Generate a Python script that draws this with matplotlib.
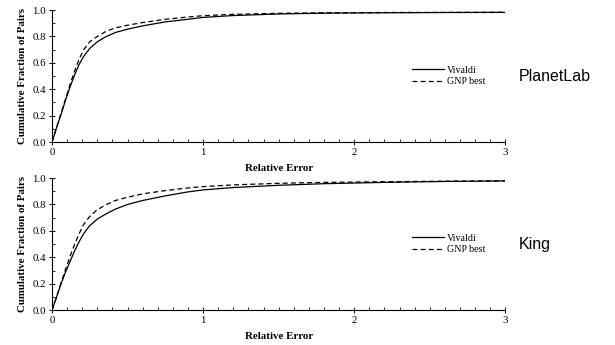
import matplotlib
matplotlib.use("Agg")
import matplotlib.pyplot as plt
from matplotlib.ticker import MultipleLocator

# relative error sample points
ERR = [0.0, 0.03, 0.06, 0.09, 0.12, 0.15, 0.18, 0.21, 0.25, 0.3, 0.36, 0.42,
       0.5, 0.6, 0.75, 0.9, 1.0, 1.2, 1.5, 1.8, 2.2, 2.6, 3.0]

# PlanetLab
PL_VIVALDI = [0.0, 0.11, 0.21, 0.32, 0.42, 0.51, 0.59, 0.65, 0.71, 0.76, 0.80, 0.83,
              0.855, 0.88, 0.91, 0.93, 0.944, 0.958, 0.970, 0.976, 0.979, 0.981, 0.982]
PL_GNP = [0.0, 0.11, 0.22, 0.33, 0.44, 0.54, 0.63, 0.70, 0.76, 0.80, 0.84, 0.865,
          0.885, 0.905, 0.93, 0.947, 0.957, 0.967, 0.975, 0.979, 0.981, 0.982, 0.983]

# King
KING_VIVALDI = [0.0, 0.10, 0.20, 0.29, 0.37, 0.45, 0.52, 0.58, 0.64, 0.69, 0.73, 0.765,
                0.80, 0.83, 0.865, 0.895, 0.91, 0.928, 0.945, 0.957, 0.967, 0.974, 0.978]
KING_GNP = [0.0, 0.10, 0.21, 0.31, 0.41, 0.50, 0.58, 0.65, 0.71, 0.76, 0.80, 0.83,
            0.855, 0.88, 0.905, 0.925, 0.935, 0.948, 0.96, 0.967, 0.972, 0.976, 0.979]

PANELS = [
    ("PlanetLab", PL_VIVALDI, PL_GNP, [0.0846, 0.588, 0.737, 0.383]),
    ("King", KING_VIVALDI, KING_GNP, [0.0846, 0.101, 0.737, 0.383]),
]

SERIF = ["Liberation Serif", "DejaVu Serif"]

fig = plt.figure(figsize=(6.15, 3.45), dpi=100)

for name, viv, gnp, rect in PANELS:
    ax = fig.add_axes(rect)
    ax.plot(ERR, viv, color="black", linewidth=0.9, label="Vivaldi")
    ax.plot(ERR, gnp, color="black", linewidth=0.9, linestyle=(0, (4, 2.5)), label="GNP best")
    ax.set_xlim(0, 3)
    ax.set_ylim(0, 1)
    for side in ("top", "right"):
        ax.spines[side].set_visible(False)
    for side in ("left", "bottom"):
        ax.spines[side].set_linewidth(0.8)
    ax.xaxis.set_major_locator(MultipleLocator(1))
    ax.xaxis.set_minor_locator(MultipleLocator(0.1))
    ax.yaxis.set_major_locator(MultipleLocator(0.2))
    ax.yaxis.set_minor_locator(MultipleLocator(0.1))
    ax.tick_params(which="major", direction="inout", length=5, width=0.7, pad=2)
    ax.tick_params(which="minor", direction="in", length=2.5, width=0.6)
    ax.set_xticklabels([f"{int(v)}" for v in ax.get_xticks()], family=SERIF, fontsize=7.8)
    ax.set_yticklabels([f"{v:.1f}" for v in ax.get_yticks()], family=SERIF, fontsize=7.8)
    ax.set_xlabel("Relative Error", family=SERIF, fontsize=7.8, fontweight="bold", labelpad=5)
    ax.set_ylabel("Cumulative Fraction of Pairs", family=SERIF, fontsize=7.8,
                  fontweight="bold", labelpad=4)
    ax.legend(loc="center left", bbox_to_anchor=(0.785, 0.5), frameon=False,
              prop={"family": SERIF, "size": 7.2}, handlelength=3.2, handletextpad=0.3,
              labelspacing=0.25, borderaxespad=0)
    ax.text(1.03, 0.5, name, transform=ax.transAxes, ha="left", va="center",
            family=["Liberation Sans", "DejaVu Sans"], fontsize=11.5)

fig.savefig("out.png", dpi=100)
